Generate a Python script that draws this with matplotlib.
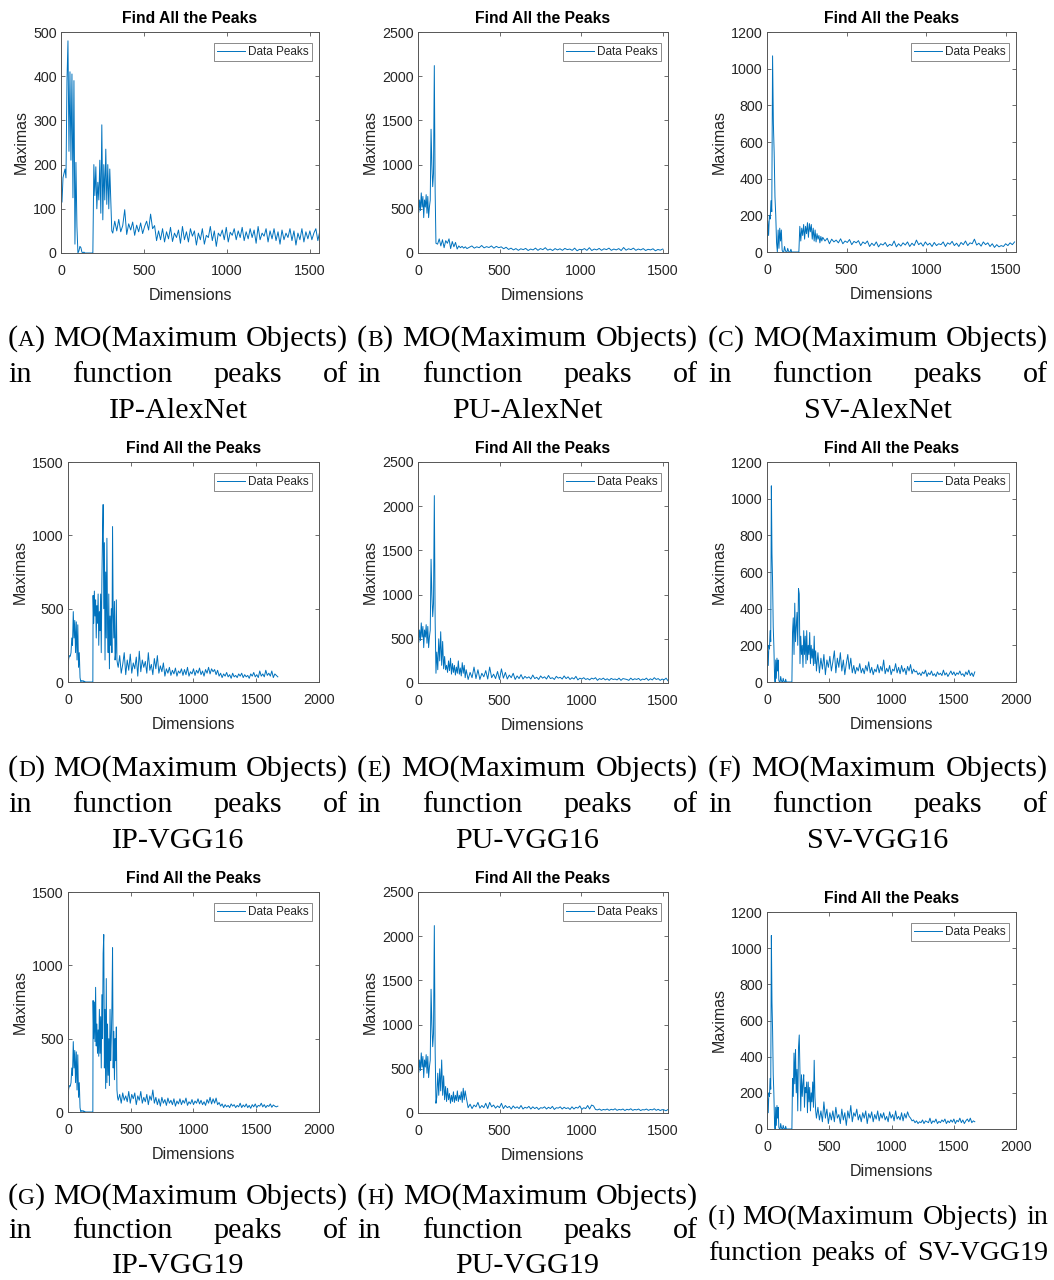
import numpy as np
import matplotlib
matplotlib.use("Agg")
import matplotlib.pyplot as plt

W, H = 1054, 1280
DPI = 100
SANS = ["Liberation Sans", "DejaVu Sans"]
SERIF = ["Liberation Serif", "DejaVu Serif"]
LINE_COLOR = "#0072BD"
TXT = "#262626"

# ---------------- data ----------------
# Panel A: IP-AlexNet
a_head = [120,115,170,180,190,170,390,480,230,410,210,405,125,390,20,205,60,0,5,15,12,2,0,2,0,0,0,0,0,0,0,0,0,
          200,130,195,100,160,120,210,90,290,75,200,120,235,110,200,100,190,120,50]
a_tail = [45,72,50,76,48,62,98,42,66,52,70,40,63,48,68,44,60,72,52,88,
          55,62,28,50,30,55,25,48,32,58,26,45,35,52,22,60,30,48,25,55,
          38,50,18,45,30,55,20,40,35,60,28,50,15,45,38,52,30,58,25,47,
          40,55,30,50,35,58,28,48,32,55,35,52,22,60,30,45,38,55,25,50,
          32,55,28,48,20,52,30,45,35,55,28,50,18,45,30,55,25,48,32,50,
          30,45,55,28,50]

# Shared start of the PU series (B, E, H)
pu_head = [500,460,600,480,680,520,640,400,600,520,660,450,640,400,520,600,1400,1000,750,900,2120,700,110]
b_mid = [100,160,80,150,60,140,110,160,50,130,70,120,45,80,60,75,55,70,50]
b_tail = [65,80,55,70,60,85,58,72,62,80,55,75,60,70,48,65,40,55,35,50,
          30,48,38,52,28,45,35,55,30,50,38,60,32,45,28,50,35,48,30,52,
          38,45,30,55,25,42,35,50,30,60,28,45,35,52,30,48,38,55,30,45,
          35,50,28,62,32,48,38,55,30,45,35,50,28,42,35,48,25,40,32,45]

# Shared start of the SV series (C, F, I)
sv_head = [60,170,90,200,180,280,220,1070,700,540,300,200,50,0,120,20,130,60,120,10,0,0,30,10,0,0,20,5,0,0,
           15,0,0,0,0,0,0,0,0,0,0]
c_mid = [140,60,130,90,150,70,140,100,160,80,155,110,150,70,130,60,120,55,100,70,90,50,85,60,80]
c_tail = [60,75,45,70,55,65,50,72,45,60,52,68,40,58,50,62,35,55,45,60,
          30,48,35,55,28,45,38,52,30,42,35,60,28,45,32,50,38,55,30,48,
          35,65,40,50,32,55,38,48,30,52,35,45,40,55,30,50,42,58,35,48,
          30,52,40,60,35,50,45,70,38,48,32,55,40,50,30,45,25,40,28,35,
          30,45,35,50,40,55]

# Shared start of the IP VGG series (D, G)
ipv_head = [120,160,180,175,200,300,250,480,300,420,200,410,150,390,100,200,30,0,10,5,10,0,5,0,0,0,0,0,0,0,0,0,0,0]
d_block = [590,400,620,450,560,300,520,400,600,250,480,350,600,200,700,1000,1210,500,950,150,750,300,980,400,200,
           600,90,450,250,500,200,1060,450,300,550,150,200,560,150,120,100]
d_tail = [180,60,120,200,50,150,80,190,60,130,
          90,170,40,210,70,150,100,140,60,200,
          80,120,50,160,90,180,60,110,70,130,
          40,90,60,100,45,80,55,95,40,75,
          60,90,45,85,50,100,40,70,55,90,
          45,80,60,95,50,75,40,85,60,100,
          55,90,70,85,50,80,40,60,30,55,
          40,65,35,50,25,60,35,45,30,55,
          40,60,30,50,35,45,25,55,40,65,
          35,50,30,75,40,55,35,80,45,60,
          40,75,30,55,45,35]

e_mid = [350,150,500,250,580,200,470,160,300,150,200,120,250,140,280,100,220,120,200,90,180,110,250,100,170,80,
         230,110,200,60,150]
e_tail = [40,120,60,180,50,150,40,110,70,140,
          45,180,60,100,50,130,40,160,55,120,
          45,90,60,110,40,80,50,95,45,75,
          55,70,45,90,50,65,40,80,55,70,
          45,85,50,60,40,75,55,65,45,80,
          50,70,40,60,45,75,35,55,45,60,
          40,50,35,55,45,60,30,50,40,55,
          35,48,30,52,40,45,35,55,30,50,
          45,40,30,55,35,48,40,52,30,45,
          38,55,30,48,35,60,40,50,30,45,
          35,55,25]

f_block = [270,350,150,430,220,300,380,200,510,480,100,250,150,200,80,280,150,250,100,280,120,200,150,270,100,
           200,130,180,90,250,100,170,60]
f_tail = [160,50,130,70,150,40,120,80,140,60,
          110,170,50,130,80,160,60,120,40,100,
          150,70,130,50,90,45,80,60,100,50,
          75,45,90,60,110,50,80,40,70,55,
          95,50,85,60,120,45,75,55,90,40,
          70,60,100,50,80,45,90,55,75,40,
          85,60,95,45,70,55,60,40,50,35,
          55,45,65,30,50,40,60,35,45,30,
          55,40,48,35,65,38,50,30,45,60,
          40,55,35,50,42,60,38,45,30,55,
          40,65,35,50,30,55]

g_block = [760,500,750,480,850,450,600,400,560,380,700,400,650,300,800,500,1080,1210,300,700,160,910,200,600,250,
           500,180,700,350,500,720,1120,300,550,220,500,350,580,150,100,80]
g_tail = [120,60,130,80,110,70,140,60,120,90,
          130,50,110,80,140,60,100,70,120,50,
          110,80,150,60,100,50,90,40,100,60,
          85,45,95,60,80,50,90,40,75,55,
          90,50,80,60,95,45,70,55,85,50,
          75,60,90,55,80,50,70,45,85,60,
          100,55,90,60,95,50,65,40,55,30,
          50,35,45,30,55,40,50,30,45,35,
          60,30,48,35,55,30,45,25,50,35,
          55,30,45,40,60,35,50,30,45,38,
          55,32,48,40,35,40]

h_mid = [180,450,200,500,250,600,200,420,150,300,130,280,150,220,110,200,130,240,120,200,140,250,130,200,150,240,
         120,280,150,250,180]
h_tail = [60,100,50,90,70,120,55,85,60,110,
          50,120,70,90,55,80,60,110,50,85,
          60,75,45,80,55,70,50,85,45,65,
          55,75,45,70,50,65,40,60,55,70,
          45,65,50,75,40,60,55,70,45,65,
          50,60,40,70,45,65,55,80,40,60,
          50,85,45,90,80,40,35,45,30,40,
          35,45,30,42,35,48,30,40,35,45,
          28,42,35,48,30,40,35,45,28,38,
          35,45,30,40,35,48,30,42,28,38,
          35,25,40]

i_block = [280,180,420,250,440,200,330,100,450,520,300,100,300,180,250,300,120,230,200,260,90,260,150,230,100,
           200,150,260,120,380,180,100,60]
i_tail = [120,50,100,40,150,60,110,30,90,50,
          100,40,120,60,80,30,110,50,90,20,
          100,60,130,40,90,70,110,50,80,40,
          90,60,100,30,85,60,95,40,80,55,
          100,45,85,60,90,50,70,40,95,60,
          80,45,100,55,70,50,90,45,85,60,
          95,70,60,45,50,35,45,30,40,35,
          50,30,45,40,35,60,30,45,38,55,
          30,42,35,50,40,55,30,45,35,50,
          38,55,30,48,40,60,35,50,30,45,
          55,40,60,35,45,40]

captions = [
    ("A", "IP-AlexNet"), ("B", "PU-AlexNet"), ("C", "SV-AlexNet"),
    ("D", "IP-VGG16"), ("E", "PU-VGG16"), ("F", "SV-VGG16"),
    ("G", "IP-VGG19"), ("H", "PU-VGG19"), ("I", "SV-VGG19"),
]


def seg(start, step, vals):
    return start + step * np.arange(len(vals)), np.asarray(vals, float)


def series(*segs):
    xs, ys = zip(*[seg(*s) for s in segs])
    return np.concatenate(xs), np.concatenate(ys)


panels = [
    # (series, xlim, ylim, ytick step, axes pixel rect l, r, t, b)
    (series((0, 6, a_head), (312, 12, a_tail)), 1555, 500, 100, (61, 319, 32, 253)),
    (series((0, 5, pu_head), (120, 10, b_mid), (315, 15, b_tail)), 1532, 2500, 500, (418, 668, 32, 253)),
    (series((0, 5, sv_head), (206, 6, c_mid), (364, 14, c_tail)), 1563, 1200, 200, (767, 1016, 32, 252)),
    (series((0, 6, ipv_head), (200, 5, d_block), (412, 12, d_tail)), 2000, 1500, 500, (68, 319, 462, 682)),
    (series((0, 5, pu_head), (115, 6, e_mid), (307, 12, e_tail)), 1531, 2500, 500, (418, 668, 462, 683)),
    (series((0, 5, sv_head), (205, 6, f_block), (409, 12, f_tail)), 2000, 1200, 200, (767, 1016, 462, 682)),
    (series((0, 6, ipv_head), (200, 5, g_block), (412, 12, g_tail)), 2000, 1500, 500, (68, 319, 892, 1112)),
    (series((0, 5, pu_head), (115, 6, h_mid), (307, 12, h_tail)), 1531, 2500, 500, (418, 668, 892, 1113)),
    (series((0, 5, sv_head), (205, 6, i_block), (409, 12, i_tail)), 2000, 1200, 200, (767, 1016, 912, 1129)),
]

fig = plt.figure(figsize=(W / DPI, H / DPI), dpi=DPI)
fig.patch.set_facecolor("white")

for (x, y), xmax, ymax, ystep, (l, r, t, b) in panels:
    aw, ah = r - l, b - t
    ax = fig.add_axes([l / W, 1 - b / H, aw / W, ah / H])
    ax.plot(x, y, color=LINE_COLOR, lw=0.7, label="Data Peaks")
    ax.set_xlim(0, xmax)
    ax.set_ylim(0, ymax)
    ax.set_xticks(np.arange(0, xmax + 1, 500))
    ax.set_yticks(np.arange(0, ymax + 1, ystep))
    ax.tick_params(direction="in", top=True, right=True, length=3, width=0.6,
                   labelsize=10.3, labelcolor=TXT, color="#555555")
    ax.tick_params(axis="x", pad=8)
    ax.tick_params(axis="y", pad=3)
    for lab in ax.get_xticklabels() + ax.get_yticklabels():
        lab.set_family(SANS)
    for sp in ax.spines.values():
        sp.set_color("#555555")
        sp.set_linewidth(0.7)
    ax.set_title("Find All the Peaks", fontsize=11.3, fontweight="bold", family=SANS, color="black", pad=6.3)
    ax.set_xlabel("Dimensions", fontsize=11.5, family=SANS, color=TXT, labelpad=7)
    ax.set_ylabel("Maximas", fontsize=11.5, family=SANS, color=TXT, labelpad=3)
    leg = ax.legend(loc="upper right", bbox_to_anchor=(1 - 7 / aw, 1 - 11 / ah), borderaxespad=0.0,
                    frameon=True, fancybox=False, borderpad=0.25, handlelength=2.4, handletextpad=0.3,
                    prop={"family": SANS, "size": 8.5})
    leg.get_frame().set_edgecolor("#555555")
    leg.get_frame().set_linewidth(0.6)
    for txt in leg.get_texts():
        txt.set_color(TXT)

# ---------------- captions (justified, Times-like) ----------------
renderer = fig.canvas.get_renderer()


def make_word(parts, fs):
    arts = []
    for s, sc in parts:
        tt = fig.text(0, 0, s, fontsize=fs * sc, family=SERIF, va="baseline", ha="left", color="black")
        arts.append(tt)
    widths = [a.get_window_extent(renderer).width for a in arts]
    return arts, widths


def place_word(arts, widths, x, ybase):
    cur = x
    for a, w in zip(arts, widths):
        a.set_position((cur / W, 1 - ybase / H))
        cur += w


def line(words, x0, x1, ybase, fs, mode="justify"):
    built = [make_word(p, fs) for p in words]
    totals = [sum(w) for _, w in built]
    if mode == "center":
        probe = fig.text(0, 0, "a a", fontsize=fs, family=SERIF)
        probe2 = fig.text(0, 0, "aa", fontsize=fs, family=SERIF)
        space = probe.get_window_extent(renderer).width - probe2.get_window_extent(renderer).width
        probe.remove()
        probe2.remove()
        tot = sum(totals) + space * (len(built) - 1)
        cur = (x0 + x1) / 2 - tot / 2
        gap = space
    else:
        gap = (x1 - x0 - sum(totals)) / max(len(built) - 1, 1)
        cur = x0
    for (arts, ws), tt in zip(built, totals):
        place_word(arts, ws, cur, ybase)
        cur += tt + gap


cols = [(8, 348), (357, 698), (708, 1048)]
row_base = [346, 776, 1204]
row_lh = [36, 36, 34.5]
FS = 21.7
for k, (letter, name) in enumerate(captions):
    row, col = divmod(k, 3)
    x0, x1 = cols[col]
    yb = row_base[row]
    lh = row_lh[row]
    lab = [("(", 1.0), (letter, 0.78), (")", 1.0)]
    if k == 8:
        fs = 20.2
        yb = 1224
        line([lab, [("MO(Maximum", 1)], [("Objects)", 1)], [("in", 1)]], x0, x1, yb, fs)
        line([[("function", 1)], [("peaks", 1)], [("of", 1)], [(name, 1)]], x0, x1, yb + 36, fs)
    else:
        line([lab, [("MO(Maximum", 1)], [("Objects)", 1)]], x0, x1, yb, FS)
        line([[("in", 1)], [("function", 1)], [("peaks", 1)], [("of", 1)]], x0, x1, yb + lh, FS)
        line([[(name, 1)]], x0, x1, yb + 2 * lh, FS, mode="center")

fig.savefig("out.png", dpi=DPI, facecolor="white")
